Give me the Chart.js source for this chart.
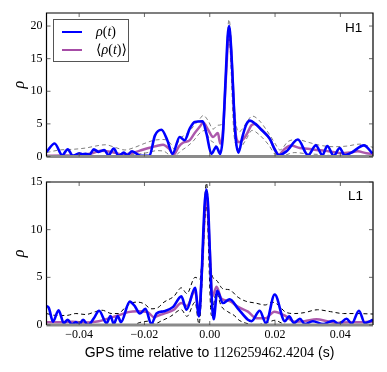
<!DOCTYPE html>
<html><head><meta charset="utf-8">
<script src="https://cdn.jsdelivr.net/npm/chart.js@4.4.1/dist/chart.umd.min.js"></script>
<style>
html,body{margin:0;padding:0;background:#fff;}
#wrap{position:relative;width:387px;height:372px;background:#fff;overflow:hidden;}
canvas{position:absolute;left:0;}
.det{position:absolute;font-family:"Liberation Sans",Arial,sans-serif;font-size:13.5px;color:#000;}
#legend{position:absolute;left:53px;top:19px;width:74px;height:41px;border:1.3px solid #555;background:#fff;}
.lg{position:absolute;left:8px;width:20px;height:0;}
.lt{position:absolute;left:42px;font-family:"Liberation Serif","DejaVu Serif",serif;font-size:14px;line-height:14px;}
#xlabel{position:absolute;left:46px;width:327px;top:343px;text-align:center;font-size:14px;line-height:18px;white-space:nowrap;}
</style></head>
<body><div id="wrap">
<canvas id="c1" width="387" height="170" style="top:0"></canvas>
<canvas id="c2" width="387" height="202" style="top:170px"></canvas>
<div id="legend">
 <div class="lg" style="top:11px;border-top:2.5px solid #0000ff"></div>
 <div class="lt" style="top:5px"><i>ρ</i>(<i>t</i>)</div>
 <div class="lg" style="top:29px;border-top:2.5px solid rgba(128,0,128,0.7)"></div>
 <div class="lt" style="top:23px">⟨<i>ρ</i>(<i>t</i>)⟩</div>
</div>
<div class="det" style="left:345px;top:20px">H1</div>
<div class="det" style="left:348px;top:188px">L1</div>
<div id="xlabel"><span style="font-family:'Liberation Sans',sans-serif">GPS time relative to </span><span style="font-family:'Liberation Serif',serif">1126259462.4204</span><span style="font-family:'Liberation Sans',sans-serif"> (s)</span></div>
</div>
<script>
// ---------- data ----------
const xTicks = [-0.04, -0.02, 0.00, 0.02, 0.04];
const h1YTicks = [0, 5, 10, 15, 20];
const l1YTicks = [0, 5, 10, 15];

// H1 rho(t)
const h1RhoT = [-0.050,-0.0475,-0.0452,-0.0435,-0.0419,-0.0400,-0.0390,-0.0380,-0.0368,-0.0355,-0.0340,-0.0323,-0.0310,-0.0294,-0.0279,-0.0263,-0.0253,-0.0238,-0.0212,-0.0185,-0.0168,-0.0148,-0.0130,-0.0114,-0.0092,-0.0077,-0.0061,-0.0046,-0.0022,-0.0010,0.0005,0.0020,0.0032,0.0040,0.0045,0.0050,0.0055,0.0059,0.0065,0.0070,0.0075,0.0080,0.0088,0.0100,0.0112,0.0123,0.0140,0.0158,0.0184,0.0200,0.0212,0.0235,0.0270,0.0301,0.0325,0.0345,0.0360,0.0380,0.0398,0.0413,0.0434,0.0472,0.0498];
const h1RhoV = [0.7,2.0,0.2,1.1,0.1,0.5,0.35,0.4,0.3,1.1,0.7,1.0,0.2,1.2,0.1,0.6,0.2,0.8,0.1,0.1,3.2,4.1,2.5,0.4,3.0,2.5,4.3,5.3,5.4,3.5,0.4,1.5,0.4,3.0,8.0,13.5,18.5,20.0,17.0,12.0,6.5,2.5,0.6,3.0,4.9,5.5,5.0,4.1,2.7,1.0,0.2,0.8,2.6,0.2,1.7,0.2,1.6,0.1,1.3,0.2,0.6,1.7,0.5];
// H1 <rho(t)>
const h1AvgT = [-0.050,-0.045,-0.040,-0.036,-0.0335,-0.030,-0.0266,-0.024,-0.0214,-0.0184,-0.0163,-0.0143,-0.0125,-0.0110,-0.0095,-0.0082,-0.0061,-0.0046,-0.0030,-0.0020,-0.0005,0.0010,0.0025,0.0032,0.0040,0.0050,0.0059,0.0068,0.0078,0.0090,0.0100,0.0112,0.0128,0.0138,0.0153,0.0184,0.0200,0.0212,0.0230,0.0249,0.0276,0.0300,0.0327,0.0351,0.0378,0.0402,0.0429,0.0453,0.0480,0.0500];
const h1AvgV = [0.1,0.15,0.2,0.5,0.9,0.7,0.3,0.5,0.9,1.35,1.6,1.8,1.2,0.3,1.5,2.1,2.5,3.6,4.6,5.2,4.1,3.0,3.6,2.0,3.5,12.5,19.5,14.0,4.0,2.2,2.5,3.3,4.8,5.0,4.4,2.7,1.0,0.3,1.2,1.7,1.3,1.2,1.0,0.9,0.7,0.5,0.6,0.8,0.5,0.4];
// H1 upper / lower bounds
const h1UpT = [-0.050,-0.046,-0.042,-0.038,-0.035,-0.032,-0.029,-0.026,-0.023,-0.020,-0.017,-0.014,-0.012,-0.011,-0.009,-0.007,-0.005,-0.003,-0.002,-0.0005,0.001,0.0025,0.004,0.0059,0.0078,0.009,0.011,0.013,0.015,0.018,0.020,0.0215,0.024,0.027,0.030,0.034,0.038,0.042,0.046,0.050];
const h1UpV = [0.6,1.0,1.1,1.3,1.6,1.8,1.4,1.0,1.4,2.0,2.5,2.6,2.0,1.2,2.8,3.5,4.6,5.8,6.3,5.5,4.2,4.8,5.0,21.0,6.0,3.8,5.0,6.2,5.6,3.6,2.0,1.0,2.3,2.6,2.2,1.7,1.5,1.6,1.9,1.4];
const h1LoT = [-0.050,-0.030,-0.025,-0.020,-0.016,-0.014,-0.012,-0.011,-0.009,-0.007,-0.005,-0.003,-0.0015,0.000,0.0015,0.003,0.004,0.0059,0.0075,0.009,0.011,0.013,0.015,0.018,0.020,0.021,0.023,0.026,0.030,0.034,0.038,0.042,0.050];
const h1LoV = [0,0,0.2,0.5,0.9,0.8,0.1,0,0.8,1.5,2.4,3.6,4.0,2.6,2.0,0.8,2.5,18.0,3.0,1.2,2.5,4.0,3.4,1.8,0.3,0,0.2,0.6,0.4,0.3,0.1,0,0];

// L1 rho(t)
const l1RhoT = [-0.0500,-0.0493,-0.0480,-0.0463,-0.0447,-0.0435,-0.0422,-0.0410,-0.0400,-0.0388,-0.0373,-0.0355,-0.0339,-0.0316,-0.0304,-0.0294,-0.0282,-0.0272,-0.0245,-0.0230,-0.0214,-0.0197,-0.0179,-0.0163,-0.0140,-0.0112,-0.0087,-0.0071,-0.0045,-0.0033,-0.0025,-0.0020,-0.0015,-0.0010,-0.0005,0.0000,0.0005,0.0012,0.0023,0.0040,0.0061,0.0087,0.0117,0.0128,0.0153,0.0172,0.0199,0.0230,0.0243,0.0258,0.0276,0.0291,0.0316,0.0347,0.0378,0.0395,0.0419,0.0435,0.0457,0.0475,0.0500];
const l1RhoV = [2.0,1.8,0.35,1.55,0.2,0.55,0.05,0.3,0.05,0.55,0.0,0.7,1.5,0.2,0.95,0.1,0.95,0.3,2.45,2.0,1.2,1.7,0.1,1.2,1.45,1.9,3.0,1.6,3.9,0.9,5.0,9.5,13.0,14.2,12.5,8.0,3.5,0.6,3.6,2.3,2.7,1.7,0.55,0.4,1.5,0.2,3.2,0.4,0.9,0.2,0.65,0.1,0.4,0.1,0.45,0.1,0.65,0.15,1.5,0.2,0.55];
// L1 <rho(t)>
const l1AvgT = [-0.050,-0.046,-0.042,-0.038,-0.034,-0.031,-0.028,-0.025,-0.022,-0.019,-0.017,-0.0163,-0.014,-0.011,-0.0087,-0.007,-0.0045,-0.0033,-0.0025,-0.0010,0.0000,0.0008,0.0021,0.0035,0.0061,0.0087,0.0117,0.0143,0.0170,0.0198,0.0229,0.0260,0.0290,0.0327,0.0360,0.0390,0.0430,0.0470,0.0500];
const l1AvgV = [0.3,0.3,0.35,0.25,0.4,0.7,1.0,1.35,1.45,1.35,0.8,0.9,1.2,1.6,2.3,2.0,3.6,1.2,5.0,13.8,8.0,3.0,4.0,2.8,2.5,1.9,1.4,0.7,0.7,1.4,1.0,0.35,0.4,0.6,0.4,0.2,0.3,0.3,0.35];
// L1 upper / lower bounds
const l1UpT = [-0.050,-0.047,-0.044,-0.041,-0.038,-0.035,-0.033,-0.030,-0.028,-0.026,-0.024,-0.022,-0.020,-0.018,-0.016,-0.014,-0.011,-0.0087,-0.007,-0.0045,-0.003,-0.001,0.0005,0.002,0.004,0.006,0.0087,0.011,0.014,0.017,0.019,0.021,0.023,0.026,0.029,0.033,0.037,0.041,0.045,0.050];
const l1UpV = [1.2,1.0,1.0,1.2,1.1,1.4,1.55,1.2,1.2,1.8,2.3,2.4,2.2,1.7,1.8,2.4,3.0,3.9,3.3,5.0,4.8,14.9,5.5,4.7,3.8,3.7,2.9,2.5,2.3,2.1,2.4,2.1,1.4,1.2,1.3,1.6,1.4,1.2,1.2,1.15];
const l1LoT = [-0.050,-0.024,-0.021,-0.019,-0.017,-0.015,-0.012,-0.0087,-0.007,-0.0045,-0.0033,-0.001,0.0005,0.002,0.0035,0.0055,0.0075,0.009,0.011,0.014,0.018,0.020,0.022,0.024,0.050];
const l1LoV = [0,0,0.3,0.4,0.1,0.4,0.9,1.6,0.9,2.4,0.1,12.5,1.0,3.4,2.0,1.4,1.0,0.5,0.2,0,0.3,0.5,0.2,0,0];

// ---------- helpers ----------
const pts = (t, v) => t.map((x, i) => ({x: x, y: v[i]}));
const fmtX = v => (Math.abs(v) < 1e-9 ? '0.00' : v.toFixed(2)).replace('-', '\u2212');

const framePlugin = {
  id: 'frame',
  afterDatasetsDraw(chart) {
    const {ctx, chartArea: a, scales: {x, y}} = chart;
    ctx.save();
    const y0 = y.getPixelForValue(0);
    ctx.strokeStyle = '#8a8a8a'; ctx.lineWidth = 3;
    ctx.beginPath(); ctx.moveTo(a.left, y0); ctx.lineTo(a.right, y0); ctx.stroke();
    ctx.strokeStyle = '#000'; ctx.lineWidth = 1.2;
    ctx.beginPath();
    ctx.moveTo(a.left, a.bottom); ctx.lineTo(a.left, a.top); ctx.lineTo(a.right, a.top); ctx.lineTo(a.right, a.bottom);
    ctx.stroke();
    ctx.lineWidth = 0.8; ctx.strokeStyle = '#444';
    ctx.beginPath();
    x.ticks.forEach(t => { const px = x.getPixelForValue(t.value);
      ctx.moveTo(px, a.top); ctx.lineTo(px, a.top + 4);
      ctx.moveTo(px, a.bottom); ctx.lineTo(px, a.bottom - 4); });
    y.ticks.forEach(t => { const py = y.getPixelForValue(t.value);
      ctx.moveTo(a.left, py); ctx.lineTo(a.left + 4, py);
      ctx.moveTo(a.right, py); ctx.lineTo(a.right - 4, py); });
    ctx.stroke();
    ctx.restore();
  }
};

function makeChart(id, d, yMax, yTicks, opts) {
  const line = (data, color, width, dash) => ({
    data, borderColor: color, borderWidth: width, borderDash: dash || [],
    pointRadius: 0, fill: false, cubicInterpolationMode: 'monotone'
  });
  return new Chart(document.getElementById(id), {
    type: 'line',
    data: { datasets: [
      line(pts(d.rT, d.rV), '#0000ff', 2.6),
      line(pts(d.aT, d.aV), 'rgba(128,0,128,0.65)', 2.5),
      line(pts(d.uT, d.uV), opts.dashColor, 1, [4, 3]),
      line(pts(d.lT, d.lV), opts.dashColor, 1, [4, 3])
    ]},
    options: {
      responsive: false, animation: false, devicePixelRatio: 1, events: [],
      layout: { padding: { left: 0, right: 14, top: opts.padTop, bottom: 0 } },
      plugins: { legend: { display: false }, tooltip: { enabled: false } },
      scales: {
        x: {
          type: 'linear', min: -0.05, max: 0.05,
          afterBuildTicks: s => { s.ticks = xTicks.map(v => ({value: v})); },
          afterFit: s => { s.height = opts.xHeight; },
          grid: { display: false, drawTicks: false },
          border: { display: false },
          ticks: { display: opts.showX, padding: 3, maxRotation: 0, color: '#000',
                   font: { family: 'Liberation Serif', size: 12 }, callback: v => fmtX(v) }
        },
        y: {
          min: 0, max: yMax,
          afterBuildTicks: s => { s.ticks = yTicks.map(v => ({value: v})); },
          afterFit: s => { s.width = 46.5; },
          grid: { display: false, drawTicks: false },
          border: { display: false },
          ticks: { padding: 4, color: '#000', font: { family: 'Liberation Serif', size: 12 },
                   callback: v => String(v) },
          title: { display: true, text: 'ρ', color: '#000', padding: { top: 10, bottom: 0 },
                   font: { family: 'Liberation Serif', size: 16, style: 'italic' } }
        }
      }
    },
    plugins: [framePlugin]
  });
}

makeChart('c1', {rT: h1RhoT, rV: h1RhoV, aT: h1AvgT, aV: h1AvgV, uT: h1UpT, uV: h1UpV, lT: h1LoT, lV: h1LoV},
  22, h1YTicks, {padTop: 13, xHeight: 13.5, showX: false, dashColor: 'rgba(0,0,0,0.5)'});
makeChart('c2', {rT: l1RhoT, rV: l1RhoV, aT: l1AvgT, aV: l1AvgV, uT: l1UpT, uV: l1UpV, lT: l1LoT, lV: l1LoV},
  15, l1YTicks, {padTop: 12, xHeight: 47, showX: true, dashColor: '#000'});
</script>
</body></html>
